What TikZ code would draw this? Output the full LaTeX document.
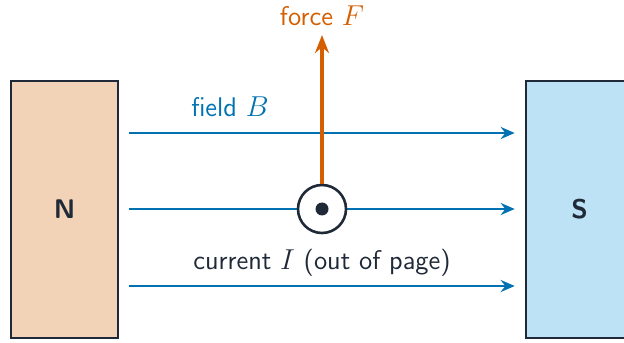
\documentclass[tikz,border=0pt]{standalone}
\usepackage{amsmath}
\usepackage{xcolor}
\usepackage{tikz}
\usetikzlibrary{positioning,arrows.meta,calc}
\definecolor{fblue}{RGB}{0,114,178}
\definecolor{forange}{RGB}{213,94,0}
\definecolor{fdark}{RGB}{31,41,55}
\definecolor{npole}{RGB}{243,211,183}
\definecolor{spole}{RGB}{189,226,245}

\begin{document}
\begin{tikzpicture}[
    x=0.5pt, y=0.5pt,
    font=\fontsize{13.5}{16}\selectfont\sffamily,
    >={Stealth[length=7pt,width=6pt]},
    pole/.style={draw=fdark, line width=1.3pt, fill=#1, minimum width=53.5pt,
                 minimum height=128.5pt, font=\fontsize{13.5}{16}\selectfont\sffamily\bfseries, text=fdark},
    fieldline/.style={->, line width=1.2pt, draw=fblue, shorten <=5pt, shorten >=5pt},
    wire/.style={circle, draw=fdark, line width=1.3pt, fill=white, minimum size=24pt, inner sep=0pt},
    dot/.style={circle, fill=fdark, minimum size=6.5pt, inner sep=0pt},
    lbl/.style={text=#1},
]
\useasboundingbox (0,0) rectangle (624,342);

% ---------- magnet poles ----------
\node[pole=npole] (N) at (64.5,132.5) {N};
\node[pole=spole] (S) at (579.5,132.5) {S};

% ---------- field lines ----------
\coordinate (top) at (322,209);
\coordinate (mid) at (322,133);
\coordinate (bot) at (322,56);

\draw[fieldline] (N.east |- top) -- (S.west |- top);
\draw[fieldline] (N.east |- mid) -- (S.west |- mid);
\draw[fieldline] (N.east |- bot) -- (S.west |- bot);

% current out of the page
\node[wire] (I) at (mid) {};
\node[dot]  (Idot) at (I.center) {};

% ---------- force on the wire ----------
\node[lbl=forange] (Flbl) at (322,326) {force $F$};
\draw[-{Stealth[length=9pt,width=7pt]}, line width=1.8pt, draw=forange, shorten >=1pt] (I.north) -- (Flbl.south);

% labels
\node[lbl=fblue] (Blbl) at (230,235) {field $B$};
\node[lbl=fdark] (Ilbl) at (322,79) {current $I$ (out of page)};

\end{tikzpicture}
\end{document}
